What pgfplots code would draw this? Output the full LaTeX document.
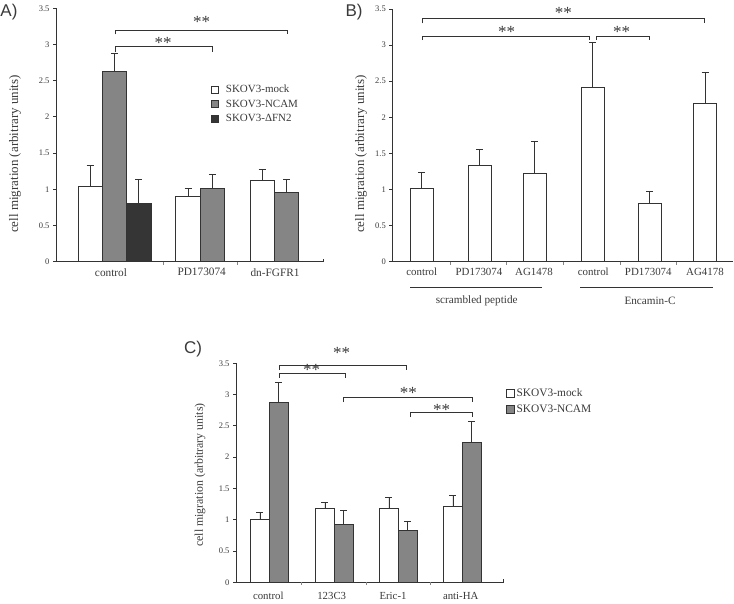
\documentclass[border=0pt]{standalone}
\usepackage{pgfplots}
\pgfplotsset{compat=1.18}
\usepackage{fontspec}
\setmainfont{Liberation Serif}
\newfontfamily\panelfont{Liberation Sans}

\definecolor{edge}{HTML}{333333}
\definecolor{midgray}{HTML}{858585}
\definecolor{darkbar}{HTML}{353535}
\definecolor{txt}{HTML}{3A3A3A}

\pgfplotsset{
  panel/.style={
    scale only axis,
    axis x line=bottom, axis y line=left,
    axis line style={edge, line width=1pt, -},
    ymin=0, ymax=3.5,
    ytick={0,0.5,1,1.5,2,2.5,3,3.5},
    tick align=outside,
    major tick length=3pt,
    ytick style={edge, line width=0.8pt},
    xtick style={draw=none},
    clip=false,
    /pgf/number format/assume math mode=true,
    yticklabel style={font=\fontsize{8.5}{9}\selectfont, text=txt},
    xticklabel style={font=\fontsize{11.3}{12}\selectfont, text=txt},
    error bars/y dir=plus, error bars/y explicit,
    error bars/error mark=-,
    error bars/error bar style={edge, line width=0.9pt},
    error bars/error mark options={rotate=90, edge, line width=0.9pt, mark size=3.5pt},
  },
  barstyle/.style={draw=edge, line width=0.9pt},
}
\newcommand{\brk}[4]{\draw[edge, line width=0.9pt] (axis cs:#1,#4) -- (axis cs:#1,#3) -- (axis cs:#2,#3) -- (axis cs:#2,#4);}
\newcommand{\stars}[2]{\node[text=txt, inner sep=0pt, anchor=base, font=\fontsize{17}{17}\selectfont, yshift=-8pt] at (axis cs:#1,#2) {**};}
\newcommand{\tk}[1]{\draw[edge!60, line width=0.6pt] (axis cs:#1,0) -- ++(0pt,-3pt);}

\begin{document}
\begin{tikzpicture}
\useasboundingbox (0pt,0pt) rectangle (734pt,-604pt);

% panel letters and y labels
\node[font=\panelfont\fontsize{17}{17}\selectfont, text=txt] at (9pt,-12pt) {A)};
\node[font=\panelfont\fontsize{17}{17}\selectfont, text=txt] at (354pt,-12pt) {B)};
\node[font=\panelfont\fontsize{17}{17}\selectfont, text=txt] at (193pt,-349pt) {C)};
\node[rotate=90, font=\fontsize{13}{13}\selectfont, text=txt] at (15pt,-154pt) {cell migration (arbitrary units)};
\node[rotate=90, font=\fontsize{13}{13}\selectfont, text=txt] at (361pt,-154pt) {cell migration (arbitrary units)};
\node[rotate=90, font=\fontsize{11.8}{12}\selectfont, text=txt] at (200pt,-475pt) {cell migration (arbitrary units)};

% ---------- A ----------
\begin{axis}[panel, at={(56pt,-261.7pt)}, anchor=south west,
  width=268pt, height=253.4pt, xmin=56, xmax=324,
  ybar=0pt, bar width=24.3,
  xtick={111,201.7,275}, xticklabels={control,PD173074,dn-FGFR1},
  legend image code/.code={\draw[#1, line width=0.8pt] (0pt,-3.5pt) rectangle (7pt,3.5pt);},
  legend cell align=left,
  legend style={at={(0.578,0.705)}, anchor=north west, draw=none, fill=none,
    font=\fontsize{11}{12}\selectfont, text=txt, row sep=1.5pt, inner sep=0pt,
    /tikz/every odd column/.append style={column sep=5pt}},
]
\addplot[barstyle, fill=white] coordinates {(114.5,1.04) +- (0,0.29) (212.3,0.90) +- (0,0.11) (286.5,1.12) +- (0,0.15)};
\addplot[barstyle, fill=midgray] coordinates {(114.5,2.63) +- (0,0.25) (212.3,1.01) +- (0,0.20) (286.5,0.95) +- (0,0.19)};
\addplot[barstyle, fill=darkbar] coordinates {(114.5,0.80) +- (0,0.34)};
\legend{SKOV3-mock, SKOV3-NCAM, SKOV3-ΔFN2}
\brk{115}{212.3}{2.97}{2.89}
\brk{115}{287.3}{3.20}{3.14}
\stars{163}{3.06}
\stars{201.7}{3.34}
\tk{163} \tk{237.7}
\draw[edge, line width=0.8pt] (axis cs:323.5,0) -- ++(0pt,3pt);
\end{axis}

% ---------- B ----------
\begin{axis}[panel, at={(392.3pt,-261.7pt)}, anchor=south west,
  width=340.7pt, height=252.7pt, xmin=392.3, xmax=733,
  ybar=0pt, bar width=23,
  xtick={421.7,479,534,593.3,648.3,705},
  xticklabels={control,PD173074,AG1478,control,PD173074,AG4178},
  xticklabel style={font=\fontsize{10.9}{12}\selectfont},
]
\addplot[barstyle, fill=white] coordinates {(421.5,1.01) +- (0,0.23) (479.5,1.33) +- (0,0.22) (534.5,1.22) +- (0,0.45) (592.5,2.42) +- (0,0.61) (649.5,0.81) +- (0,0.16) (705,2.19) +- (0,0.43)};
\brk{422}{704}{3.375}{3.30}
\brk{422}{589.3}{3.126}{3.07}
\brk{596}{649}{3.126}{3.07}
\stars{563.3}{3.48}
\stars{506.7}{3.22}
\stars{621.7}{3.22}
\tk{450} \tk{506.7} \tk{563.3} \tk{620} \tk{676.7}
\draw[edge, line width=0.9pt] (axis cs:410,-0.36) -- (axis cs:541.7,-0.36);
\draw[edge, line width=0.9pt] (axis cs:580,-0.36) -- (axis cs:712.7,-0.36);
\node[text=txt, font=\fontsize{11.2}{12}\selectfont] at (axis cs:476.7,-0.545) {scrambled peptide};
\node[text=txt, font=\fontsize{11.2}{12}\selectfont] at (axis cs:650,-0.545) {Encamin-C};
\end{axis}

% ---------- C ----------
\begin{axis}[panel, at={(236pt,-582.3pt)}, anchor=south west,
  width=268pt, height=219pt, xmin=236, xmax=504,
  ybar=0pt, bar width=18.7,
  xtick={268.3,331.7,393,460.7}, xticklabels={control,123C3,Eric-1,anti-HA},
  xticklabel style={font=\fontsize{10.8}{12}\selectfont, yshift=-3.5pt},
  legend image code/.code={\draw[#1, line width=0.8pt] (0pt,-4pt) rectangle (8pt,4pt);},
  legend cell align=left,
  legend style={at={(1.006,0.895)}, anchor=north west, draw=none, fill=none,
    font=\fontsize{11.4}{12}\selectfont, text=txt, row sep=3pt, inner sep=0pt},
]
\addplot[barstyle, fill=white] coordinates {(269.3,1.00) +- (0,0.11) (334.3,1.18) +- (0,0.10) (398.3,1.18) +- (0,0.17) (462.3,1.22) +- (0,0.17)};
\addplot[barstyle, fill=midgray] coordinates {(269.3,2.87) +- (0,0.33) (334.3,0.93) +- (0,0.22) (398.3,0.83) +- (0,0.15) (462.3,2.23) +- (0,0.34)};
\legend{SKOV3-mock, SKOV3-NCAM}
\brk{279}{345.7}{3.335}{3.27}
\brk{279}{406.7}{3.46}{3.39}
\brk{343.3}{472.3}{2.95}{2.88}
\brk{410}{472.3}{2.71}{2.64}
\stars{311.7}{3.44}
\stars{341.7}{3.70}
\stars{408.3}{3.06}
\stars{441.7}{2.80}
\tk{301.7} \tk{366.7} \tk{430.7}
\draw[edge, line width=0.8pt] (axis cs:503.5,0) -- ++(0pt,3pt);
\end{axis}
\end{tikzpicture}
\end{document}
